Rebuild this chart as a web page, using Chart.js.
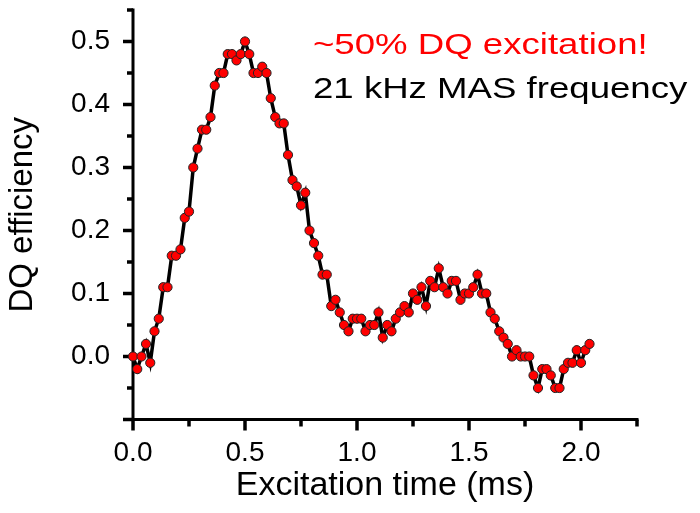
<!DOCTYPE html>
<html>
<head>
<meta charset="utf-8">
<script src="https://cdn.jsdelivr.net/npm/chart.js@4.4.1/dist/chart.umd.min.js"></script>
<style>
  body { margin: 0; background: #fff; }
  #wrap { width: 700px; height: 513px; }
</style>
</head>
<body>
<div id="wrap"><canvas id="dqChart" width="700" height="513"></canvas></div>
<script>
// excitation time (ms) and DQ efficiency
const excitationTime = [
  0.000, 0.019, 0.038, 0.058, 0.077, 0.096, 0.115, 0.135, 0.154, 0.173,
  0.192, 0.212, 0.231, 0.250, 0.269, 0.288, 0.308, 0.327, 0.346, 0.365,
  0.385, 0.404, 0.423, 0.442, 0.462, 0.481, 0.500, 0.519, 0.538, 0.558,
  0.577, 0.596, 0.615, 0.635, 0.654, 0.673, 0.692, 0.712, 0.731, 0.750,
  0.769, 0.788, 0.808, 0.827, 0.846, 0.865, 0.885, 0.904, 0.923, 0.942,
  0.962, 0.981, 1.000, 1.019, 1.038, 1.058, 1.077, 1.096, 1.115, 1.135,
  1.154, 1.173, 1.192, 1.212, 1.231, 1.250, 1.269, 1.288, 1.308, 1.327,
  1.346, 1.365, 1.385, 1.404, 1.423, 1.442, 1.462, 1.481, 1.500, 1.519,
  1.538, 1.558, 1.577, 1.596, 1.615, 1.635, 1.654, 1.673, 1.692, 1.712,
  1.731, 1.750, 1.769, 1.788, 1.808, 1.827, 1.846, 1.865, 1.885, 1.904,
  1.923, 1.942, 1.962, 1.981, 2.000, 2.019, 2.038
];

const dqEfficiency = [
  0.00, -0.02, 0.00, 0.02, -0.01, 0.04, 0.06, 0.11, 0.11, 0.16,
  0.16, 0.17, 0.22, 0.23, 0.30, 0.33, 0.36, 0.36, 0.38, 0.43,
  0.45, 0.45, 0.48, 0.48, 0.47, 0.48, 0.50, 0.48, 0.45, 0.45,
  0.46, 0.45, 0.41, 0.38, 0.37, 0.37, 0.32, 0.28, 0.27, 0.24,
  0.26, 0.20, 0.18, 0.16, 0.13, 0.13, 0.08, 0.09, 0.07, 0.05,
  0.04, 0.06, 0.06, 0.06, 0.04, 0.05, 0.05, 0.07, 0.03, 0.05,
  0.04, 0.06, 0.07, 0.08, 0.07, 0.10, 0.09, 0.11, 0.08, 0.12,
  0.11, 0.14, 0.11, 0.10, 0.12, 0.12, 0.09, 0.10, 0.10, 0.11,
  0.13, 0.10, 0.10, 0.07, 0.06, 0.04, 0.03, 0.02, 0.00, 0.01,
  0.00, 0.00, 0.00, -0.03, -0.05, -0.02, -0.02, -0.03, -0.05, -0.05,
  -0.02, -0.01, -0.01, 0.01, -0.01, 0.01, 0.02
];

const xLabelTicks = [0, 0.5, 1.0, 1.5, 2.0];
const yLabelTicks = [0, 0.1, 0.2, 0.3, 0.4, 0.5];
const noteLines = ['~50% DQ excitation!', '21 kHz MAS frequency'];

const FONT = "'Liberation Sans', Arial, sans-serif";

const isIn = (list, v) => list.some(t => Math.abs(t - v) < 1e-6);

// axis lines + major/minor tick marks, drawn under the points
const axesPlugin = {
  id: 'axes',
  beforeDatasetsDraw(chart) {
    const ctx = chart.ctx;
    const x = chart.scales.x;
    const y = chart.scales.y;
    const x0 = x.getPixelForValue(x.min);
    const y0 = y.getPixelForValue(y.min);
    ctx.save();
    ctx.strokeStyle = '#000';
    ctx.lineWidth = 3;
    ctx.beginPath();
    ctx.moveTo(x0, y.getPixelForValue(y.max) - 1.5);
    ctx.lineTo(x0, y0);
    ctx.lineTo(x.getPixelForValue(x.max) + 1.5, y0);
    ctx.stroke();

    ctx.lineWidth = 3.5;
    y.ticks.forEach(t => {
      const py = y.getPixelForValue(t.value);
      const major = isIn(yLabelTicks, t.value) || Math.abs(t.value - y.min) < 1e-6;
      ctx.beginPath();
      ctx.moveTo(x0, py);
      ctx.lineTo(x0 - (major ? 10 : 6), py);
      ctx.stroke();
    });
    x.ticks.forEach(t => {
      const px = x.getPixelForValue(t.value);
      const major = isIn(xLabelTicks, t.value);
      ctx.beginPath();
      ctx.moveTo(px, y0);
      ctx.lineTo(px, y0 + (major ? 11 : 7));
      ctx.stroke();
    });
    ctx.restore();
  },
  afterDraw(chart) {
    const ctx = chart.ctx;
    ctx.save();
    ctx.font = '30px ' + FONT;
    ctx.textBaseline = 'alphabetic';
    ctx.translate(313, 0);
    ctx.scale(1.22, 1);
    ctx.fillStyle = '#ff0000';
    ctx.fillText(noteLines[0], 0, 54);
    ctx.fillStyle = '#000';
    ctx.fillText(noteLines[1], 0, 98);
    ctx.restore();
  }
};

let dqData = {
  datasets: [{
    data: excitationTime.map((t, i) => ({ x: t, y: dqEfficiency[i] })),
    showLine: true,
    borderColor: '#000',
    borderWidth: 3.5,
    tension: 0,
    pointRadius: 4.6,
    pointBorderWidth: 1,
    pointBackgroundColor: '#ff0000',
    pointBorderColor: '#222',
    clip: false
  }]
};

let dqConfig = {
  type: 'scatter',
  data: dqData,
  options: {
    responsive: false,
    animation: false,
    layout: { padding: { top: 10, right: 63, bottom: 0, left: 0 } },
    plugins: { legend: { display: false }, tooltip: { enabled: false } },
    scales: {
      x: {
        type: 'linear',
        min: 0,
        max: 2.25,
        grid: { display: false, drawTicks: false },
        border: { display: false },
        afterFit: s => {
          s.height = 93.5;
          s.paddingLeft = 0;
          s.paddingRight = 0;
        },
        ticks: {
          stepSize: 0.25,
          padding: 17,
          color: '#000',
          font: { family: FONT, size: 28 },
          maxRotation: 0,
          autoSkip: false,
          callback: v => isIn(xLabelTicks, v) ? v.toFixed(1) : ''
        },
        title: {
          display: true,
          text: 'Excitation time (ms)',
          color: '#000',
          font: { family: FONT, size: 34 },
          padding: { top: 0, bottom: 7 }
        }
      },
      y: {
        min: -0.1,
        max: 0.55,
        grid: { display: false, drawTicks: false },
        border: { display: false },
        afterFit: s => {
          s.width = 133;
          s.paddingTop = 0;
          s.paddingBottom = 0;
        },
        ticks: {
          stepSize: 0.05,
          padding: 23,
          color: '#000',
          font: { family: FONT, size: 28 },
          autoSkip: false,
          callback: v => isIn(yLabelTicks, v) ? v.toFixed(1) : ''
        },
        title: {
          display: true,
          text: 'DQ efficiency',
          color: '#000',
          font: { family: FONT, size: 33 },
          padding: { top: 3, bottom: 0 }
        }
      }
    }
  },
  plugins: [axesPlugin]
};

const dqChart = new Chart(document.getElementById('dqChart'), dqConfig);
</script>
</body>
</html>
